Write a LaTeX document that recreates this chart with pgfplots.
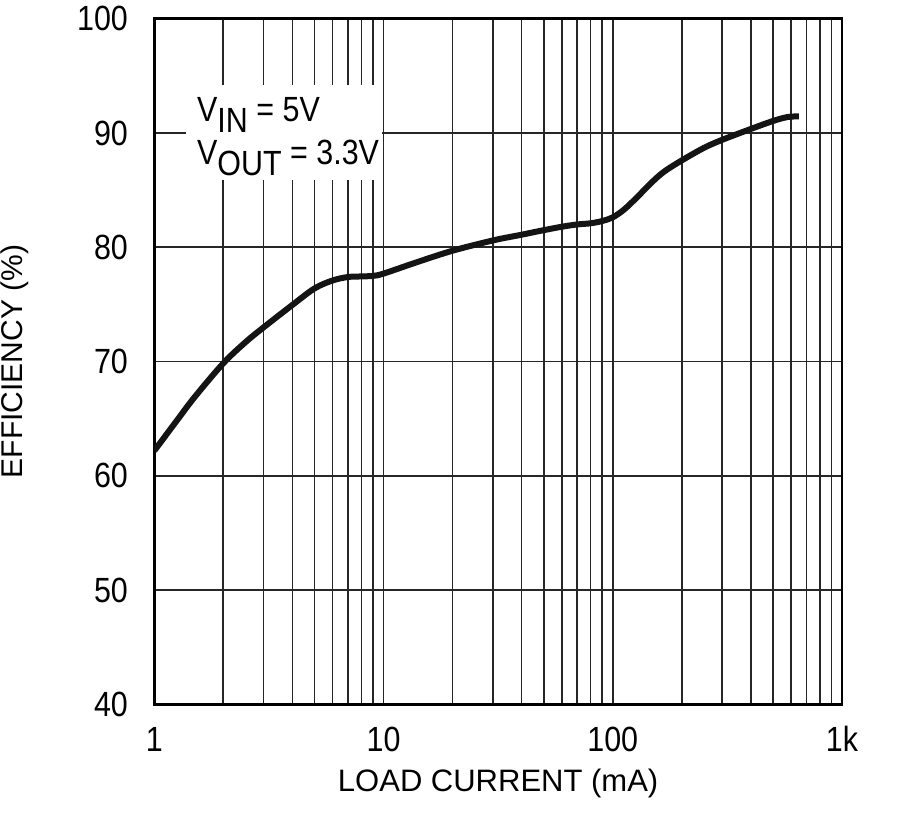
\documentclass[border=0pt]{standalone}
\usepackage{pgfplots}
\pgfplotsset{compat=1.18}
\usepackage{fontspec}
\setmainfont{Liberation Sans}
\newfontfamily\condensed{Liberation Sans}[FakeStretch=0.87]
\newcommand\lab{\condensed\fontsize{17.5bp}{21bp}\selectfont}
\begin{document}
\begin{tikzpicture}
\begin{axis}[
  scale only axis,
  width=343.85bp, height=342.9bp,
  xmode=log,
  xmin=1, xmax=1000, ymin=40, ymax=100,
  xtick={1,10,100,1000},
  xticklabels={1,10,100,1k},
  ytick={40,50,60,70,80,90,100},
  minor xtick={2,3,4,5,6,7,8,9,20,30,40,50,60,70,80,90,200,300,400,500,600,700,800,900},
  xmajorgrids, xminorgrids, ymajorgrids,
  major grid style={line width=0.8bp, black!85},
  minor grid style={line width=0.8bp, black!85},
  major tick length=0pt, minor tick length=0pt,
  axis line style={line width=1.4bp, black},
  /pgf/number format/assume math mode=true,
  tick label style={font=\lab},
  xticklabel style={anchor=base, inner sep=0pt, yshift=-23.6bp},
  yticklabel style={anchor=east, inner sep=0pt, xshift=-13bp},
  xlabel={LOAD CURRENT (mA)},
  ylabel={EFFICIENCY (\%)},
  xlabel style={font=\fontsize{15.5bp}{18bp}\selectfont, at={(axis description cs:0.5,-0.1271)}, anchor=base, inner sep=0pt},
  ylabel style={font=\fontsize{15bp}{18bp}\selectfont, at={(axis description cs:-0.1914,0.5)}, anchor=base, inner sep=0pt},
]
\fill[white] (rel axis cs:0.046,0.7645) rectangle (rel axis cs:0.331,0.903);
\node[anchor=base west, inner sep=0pt, font=\lab] at (rel axis cs:0.0617,0.8498)
  {V\raisebox{-0.3em}{IN} = 5V};
\node[anchor=base west, inner sep=0pt, font=\lab] at (rel axis cs:0.0617,0.7867)
  {V\raisebox{-0.3em}{OUT} = 3.3V};
\addplot[line width=3bp, black!92, smooth, tension=0.55] coordinates {
(1,62.2) (1.25,64.8) (1.5,66.9) (2,69.85) (2.5,71.7) (3,73.0) (4,74.95) (5,76.4)
(6,77.1) (7,77.4) (8,77.45) (9,77.5) (10,77.7) (14,78.7) (20,79.7) (30,80.6)
(40,81.1) (50,81.5) (60,81.8) (70,82.0) (80,82.1) (90,82.3)
(100,82.62) (112,83.3) (128,84.4) (146,85.57) (167,86.6) (200,87.6) (250,88.7)
(300,89.4) (400,90.35) (500,91.05) (580,91.4) (649,91.45)
};
\end{axis}
\pgfresetboundingbox
\path (-77.15bp,-55.75bp) rectangle (372.85bp,352.25bp);
\end{tikzpicture}
\end{document}
